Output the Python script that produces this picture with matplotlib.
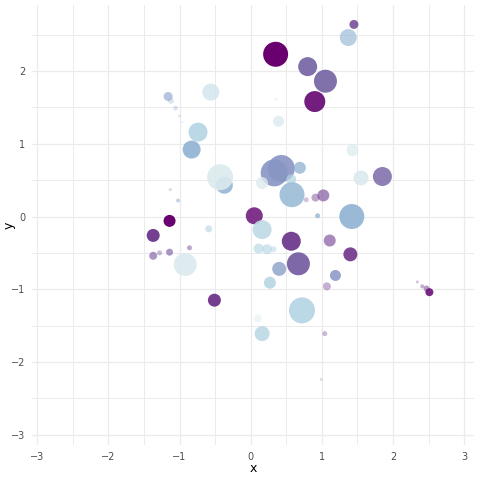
import numpy as np
import matplotlib
matplotlib.use("Agg")
import matplotlib.pyplot as plt
from matplotlib.colors import LinearSegmentedColormap

# point data
x = [1.45, 1.37, 0.35, 0.80, 1.05, 0.90, 0.39, -0.56, -1.12, -1.055, -1.00, -0.96,
     -1.16, -0.74, -0.83, 1.43, 0.33, 0.43, 0.69, -0.37, -0.43, 0.16, 0.57, 0.58,
     1.55, 1.85, 0.78, 0.91, 1.02, 0.94, 1.42, 0.05, 0.16, 0.57, 1.11, 1.40, 0.67,
     0.40, 1.19, 0.27, 1.07, 0.11, 0.23, 0.32, -0.92, -1.14, -1.37, -1.37, -1.28,
     -1.14, -0.86, -0.59, -0.51, 2.34, 2.41, 2.47, 2.51, 0.72, 0.10, 0.16, 1.04,
     -1.02, -1.13, 0.99, 0.35]
y = [2.64, 2.46, 2.23, 2.06, 1.86, 1.58, 1.31, 1.71, 1.59, 1.49, 1.38, 1.30,
     1.65, 1.16, 0.92, 0.91, 0.60, 0.66, 0.67, 0.43, 0.54, 0.46, 0.51, 0.30,
     0.53, 0.55, 0.23, 0.26, 0.29, 0.01, 0.00, 0.01, -0.18, -0.34, -0.33, -0.52, -0.65,
     -0.72, -0.81, -0.91, -0.96, -0.44, -0.45, -0.45, -0.66, -0.06, -0.26, -0.54, -0.50,
     -0.49, -0.43, -0.17, -1.15, -0.90, -0.96, -0.99, -1.04, -1.29, -1.40, -1.61, -1.61,
     0.22, 0.37, -2.24, 1.61]
size = [9, 17, 25, 19, 23, 21, 11, 17, 6, 5, 3, 2,
        9, 19, 18, 12, 27, 27, 12, 17, 26, 12, 10, 25,
        15, 19, 5, 8, 12, 5, 25, 17, 19, 19, 12, 14, 23,
        14, 11, 12, 8, 10, 10, 6, 23, 12, 13, 8, 5,
        7, 5, 7, 13, 3, 4, 6, 8, 26, 8, 15, 5,
        4, 3, 3, 3]
val = [0.80, 0.30, 1.00, 0.67, 0.67, 0.95, 0.00, 0.05, 0.40, 0.40, 0.40, 0.40,
       0.45, 0.17, 0.33, 0.00, 0.50, 0.50, 0.33, 0.33, 0.00, 0.00, 0.17, 0.30,
       0.00, 0.67, 0.83, 0.83, 0.83, 0.33, 0.33, 0.95, 0.12, 0.83, 0.83, 0.85, 0.70,
       0.45, 0.50, 0.17, 0.83, 0.17, 0.17, 0.17, 0.00, 1.00, 0.85, 0.75, 0.75,
       0.75, 0.75, 0.17, 0.85, 0.85, 0.85, 0.85, 0.95, 0.17, 0.00, 0.17, 0.75,
       0.40, 0.40, 0.50, 0.20]
alpha = [0.85, 0.70, 1.00, 0.95, 0.95, 0.95, 0.80, 0.80, 0.30, 0.30, 0.25, 0.20,
         0.60, 0.90, 0.95, 0.70, 0.90, 0.90, 0.80, 0.90, 0.90, 0.80, 0.70, 0.90,
         0.90, 0.85, 0.30, 0.45, 0.60, 0.80, 0.95, 0.85, 0.90, 0.95, 0.60, 0.90, 0.95,
         0.80, 0.85, 0.85, 0.40, 0.60, 0.60, 0.50, 0.90, 1.00, 0.95, 0.60, 0.40,
         0.60, 0.50, 0.60, 0.95, 0.30, 0.40, 0.50, 0.90, 0.90, 0.40, 0.80, 0.40,
         0.50, 0.40, 0.30, 0.20]

cmap = LinearSegmentedColormap.from_list(
    "bupu", ["#dbeaee", "#b3d4e3", "#94b5d4", "#8796c4", "#7a6aa8", "#6e3a8e", "#6a0070"])

fig = plt.figure(figsize=(4.8, 4.8), dpi=100)
ax = fig.add_axes([0.067, 0.073, 0.921, 0.917])

cols = cmap(np.array(val))
cols[:, 3] = alpha
s = (np.array(size) * 0.72) ** 2
ax.scatter(x, y, s=s, c=cols, linewidths=0, zorder=3)

ax.set_xlim(-3.07, 3.14)
ax.set_ylim(-3.14, 2.91)
ax.set_xticks(range(-3, 4))
ax.set_yticks(range(-3, 3))
ax.set_xticks(np.arange(-2.5, 3.0, 1), minor=True)
ax.set_yticks(np.arange(-2.5, 3.0, 1), minor=True)
ax.grid(which="major", color="#ebebeb", linewidth=0.9)
ax.grid(which="minor", color="#ebebeb", linewidth=0.7)
ax.set_axisbelow(True)
for sp in ax.spines.values():
    sp.set_visible(False)
ax.tick_params(which="both", length=0, labelsize=7, labelcolor="#4d4d4d", pad=5)
ax.set_xlabel("x", fontsize=9)
ax.set_ylabel("y", fontsize=9)
ax.xaxis.set_label_coords(0.5, -0.038)
ax.yaxis.set_label_coords(-0.037, 0.5)

fig.savefig("out.png", dpi=100, facecolor="white")
